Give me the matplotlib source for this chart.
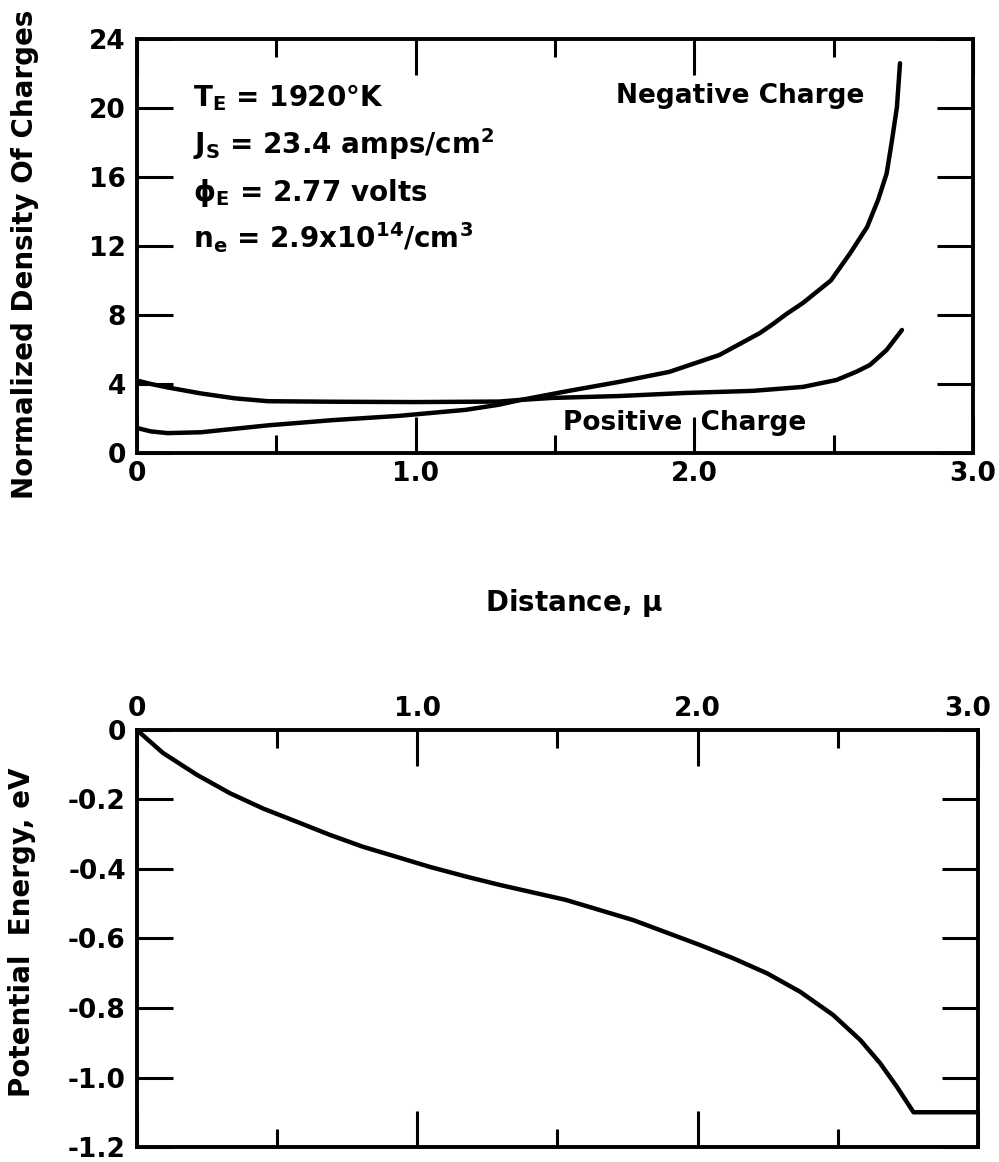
import matplotlib.pyplot as plt
from matplotlib.ticker import MultipleLocator
from matplotlib.transforms import ScaledTranslation

plt.rcParams['font.family'] = ['DejaVu Sans']
plt.rcParams['font.weight'] = 'bold'
plt.rcParams['mathtext.default'] = 'bf'

# density of charges vs distance (microns)
neg_x = [0.0, 0.05, 0.11, 0.23, 0.47, 0.70, 0.94, 1.18, 1.30, 1.37, 1.55, 1.73,
         1.91, 2.09, 2.235, 2.28, 2.33, 2.39, 2.49, 2.56, 2.62, 2.66, 2.69,
         2.709, 2.727, 2.738]
neg_y = [1.45, 1.25, 1.15, 1.20, 1.60, 1.90, 2.15, 2.50, 2.80, 3.05, 3.60, 4.12,
         4.70, 5.68, 6.95, 7.45, 8.05, 8.70, 10.0, 11.6, 13.1, 14.7, 16.2,
         18.1, 20.06, 22.6]

pos_x = [0.0, 0.05, 0.11, 0.23, 0.35, 0.47, 0.70, 1.00, 1.30, 1.37, 1.49, 1.73,
         1.97, 2.21, 2.39, 2.51, 2.58, 2.63, 2.69, 2.745]
pos_y = [4.20, 4.00, 3.80, 3.45, 3.17, 3.00, 2.97, 2.95, 2.98, 3.07, 3.19, 3.30,
         3.48, 3.60, 3.83, 4.23, 4.70, 5.10, 5.97, 7.13]

# potential energy vs distance
pot_x = [0.0, 0.093, 0.214, 0.332, 0.45, 0.57, 0.689, 0.806, 0.926, 1.045, 1.18,
         1.295, 1.53, 1.77, 2.009, 2.127, 2.247, 2.365, 2.483, 2.58, 2.65, 2.71,
         2.77, 3.0]
pot_y = [0.0, -0.066, -0.129, -0.182, -0.226, -0.264, -0.302, -0.336, -0.365,
         -0.394, -0.423, -0.446, -0.489, -0.547, -0.619, -0.657, -0.700, -0.753,
         -0.820, -0.892, -0.958, -1.026, -1.100, -1.100]

dens_ticks = [0, 4, 8, 12, 16, 20, 24]
dist_ticks = [0, 1.0, 2.0, 3.0]
dist_labels = ['0', '1.0', '2.0', '3.0']
pot_ticks = [0, -0.2, -0.4, -0.6, -0.8, -1.0, -1.2]
pot_labels = ['0', '-0.2', '-0.4', '-0.6', '-0.8', '-1.0', '-1.2']

params = ['T$_E$ = 1920°K',
          'J$_S$ = 23.4 amps/cm$^2$',
          r'$\phi_E$ = 2.77 volts',
          'n$_e$ = 2.9x10$^{14}$/cm$^3$']

fig = plt.figure(figsize=(9.99, 11.62), dpi=100)
ax1 = fig.add_axes([0.137, 0.6102, 0.837, 0.3562])
ax2 = fig.add_axes([0.137, 0.0129, 0.842, 0.3589])

lw = 3.2
for ax in (ax1, ax2):
    for s in ax.spines.values():
        s.set_linewidth(2.8)
    ax.tick_params(which='both', direction='in', top=True, right=True,
                   width=2.2, labelsize=19)
    ax.tick_params(which='major', length=26)
    ax.tick_params(which='minor', length=13)
    ax.xaxis.set_minor_locator(MultipleLocator(0.5))

# upper panel
ax1.plot(neg_x, neg_y, color='black', lw=lw, solid_capstyle='round',
         solid_joinstyle='round')
ax1.plot(pos_x, pos_y, color='black', lw=lw, solid_capstyle='round',
         solid_joinstyle='round')
ax1.set_xlim(0, 3.0)
ax1.set_ylim(0, 24)
ax1.set_yticks(dens_ticks)
ax1.set_xticks(dist_ticks)
ax1.set_xticklabels(dist_labels)
ax1.tick_params(axis='x', pad=6)
ax1.tick_params(axis='y', pad=8)
for i, line in enumerate(params):
    ax1.text(0.2, 20.1 - i * 2.75, line, fontsize=20, fontweight='bold')
ax1.text(1.72, 20.3, 'Negative Charge', fontsize=19, fontweight='bold')
ax1.text(1.53, 1.75, 'Positive  Charge', fontsize=19, fontweight='bold',
         va='center')

# lower panel
ax2.plot(pot_x, pot_y, color='black', lw=lw, solid_capstyle='round',
         solid_joinstyle='round')
ax2.set_xlim(0, 3.0)
ax2.set_ylim(-1.2, 0)
ax2.set_yticks(pot_ticks)
ax2.set_yticklabels(pot_labels)
ax2.set_xticks(dist_ticks)
ax2.set_xticklabels(dist_labels)
ax2.tick_params(axis='x', labelbottom=False, labeltop=True, pad=6)
ax2.tick_params(axis='y', pad=8)

# pull the last top label in so it stays inside the figure
last = ax2.get_xticklabels(which='major')[-1]
last.set_transform(last.get_transform() +
                   ScaledTranslation(-0.1, 0, fig.dpi_scale_trans))

fig.text(0.025, 0.781, 'Normalized Density Of Charges', rotation=90,
         ha='center', va='center', fontsize=20, fontweight='bold')
fig.text(0.574, 0.481, r'Distance, $\mu$', ha='center', va='center',
         fontsize=20, fontweight='bold')
fig.text(0.022, 0.198, 'Potential  Energy, eV', rotation=90,
         ha='center', va='center', fontsize=20, fontweight='bold')

fig.savefig('out.png', dpi=100)
